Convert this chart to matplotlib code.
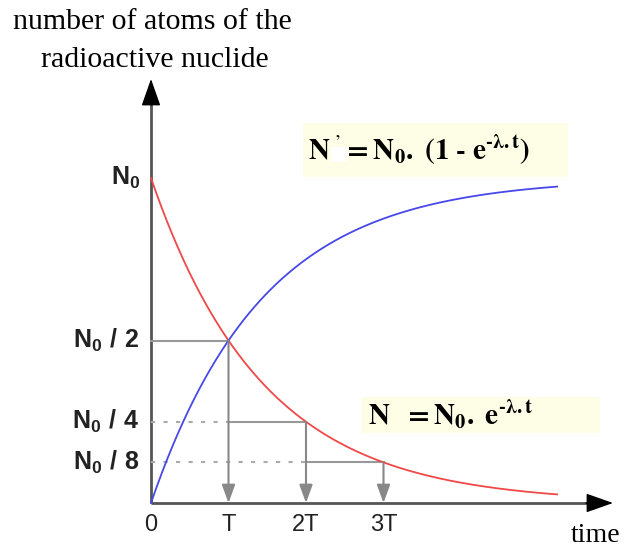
import numpy as np
import matplotlib
matplotlib.use("Agg")
import matplotlib.pyplot as plt
from matplotlib.patches import Rectangle

plt.rcParams['mathtext.fontset'] = 'custom'
plt.rcParams['mathtext.rm'] = 'Liberation Sans'
plt.rcParams['mathtext.bf'] = 'Liberation Sans:bold'

# Valores (unidades: T no eixo x, N0 no eixo y)
N0 = 1.0
T = 1.0
t_end = 5.24
tick_times = [0, 1, 2, 3]
tick_time_labels = ['0', 'T', '2T', '3T']
levels = [1.0, 0.5, 0.25, 0.125]
level_labels = [r'$\mathbf{N_0}$', r'$\mathbf{N_0\ /\ 2}$',
                r'$\mathbf{N_0\ /\ 4}$', r'$\mathbf{N_0\ /\ 8}$']

# Curvas: N = N0 . 2^(-t/T) e N' = N0 - N
t = np.linspace(0, t_end, 300)
N = N0 * 0.5 ** (t / T)
N_prime = N0 - N

fig = plt.figure(figsize=(6.24, 5.48), dpi=100)
ax = fig.add_axes([0, 0, 1, 1])
ax.set_xlim(-151 / 77.5, (624 - 151) / 77.5)
ax.set_ylim(-45 / 325, 503 / 325)
ax.axis('off')

axis_col = '#555555'
guide_col = '#999999'

# eixos com setas
y_tip = (503 - 79) / 325
x_tip = (613 - 151) / 77.5
ax.plot([0, 0], [0, y_tip - 0.05], color=axis_col, lw=2, solid_capstyle='butt')
ax.plot([0, x_tip - 0.2], [0, 0], color=axis_col, lw=2, solid_capstyle='butt')
ax.annotate('', xy=(0, y_tip), xytext=(0, y_tip - 0.08),
            arrowprops=dict(arrowstyle='-|>,head_length=1.7,head_width=0.6',
                            mutation_scale=10, color='black', lw=1,
                            shrinkA=0, shrinkB=0))
ax.annotate('', xy=(x_tip, 0), xytext=(x_tip - 0.35, 0),
            arrowprops=dict(arrowstyle='-|>,head_length=1.7,head_width=0.6',
                            mutation_scale=10, color='black', lw=1,
                            shrinkA=0, shrinkB=0))

# linhas-guia das meias-vidas
for i in range(1, 4):
    lvl = levels[i]
    tt = tick_times[i]
    prev = tick_times[i - 1]
    if prev > 0:
        ax.plot([0, prev], [lvl, lvl], color='#aaaaaa', lw=1.5,
                linestyle=(0, (2, 4)))
    ax.plot([prev, tt], [lvl, lvl], color=guide_col, lw=1.5)
    ax.annotate('', xy=(tt, 0), xytext=(tt, lvl),
                arrowprops=dict(arrowstyle='-|>,head_length=1.1,head_width=0.4',
                                mutation_scale=10, color='#888888', lw=1.5,
                                shrinkA=0, shrinkB=0))

# curvas
ax.plot(t, N, color='#f04848', lw=1.3)
ax.plot(t, N_prime, color='#4848e8', lw=1.3)

# rótulos
for lvl, lab in zip(levels, level_labels):
    ax.text(-11 / 77.5, lvl, lab, ha='right', va='center', fontsize=18,
            math_fontfamily='custom', color='#222222')
for tt, lab in zip(tick_times, tick_time_labels):
    ax.text(tt, -22 / 325, lab, ha='center', va='center', fontsize=17,
            family='Liberation Sans', color='#222222')

ax.text(0.02, (503 - 22) / 325, 'number of atoms of the', ha='center',
        va='center', fontsize=21.5, family='Liberation Serif')
ax.text(0.05, (503 - 60) / 325, 'radioactive nuclide', ha='center',
        va='center', fontsize=21.5, family='Liberation Serif')
ax.text((596 - 151) / 77.5, (503 - 535) / 325, 'time', ha='center',
        va='center', fontsize=20, family='Liberation Serif')

# caixas das fórmulas
ax.add_patch(Rectangle((1.96, 1.003), 3.42, 0.166, color='#fefee6', lw=0, zorder=1))
ax.add_patch(Rectangle((2.72, 0.215), 3.07, 0.111, color='#fefee6', lw=0, zorder=1))
ax.add_patch(Rectangle((2.32, 1.050), 0.21, 0.045, color='white', lw=0, zorder=2))
ax.text(2.03, 1.086,
        "$\\mathbf{N}^{\\ \u2019}\\mathbf{=N_0.\\ (1\\ \u2010\\ e^{\u2010\\lambda.t})}$",
        ha='left', va='center', fontsize=21, math_fontfamily='stix', zorder=3)
ax.text(2.80, 0.272, "$\\mathbf{N\\ \\ = N_0.\\ e^{\u2010\\lambda.t}}$",
        ha='left', va='center', fontsize=21, math_fontfamily='stix', zorder=3)

fig.savefig('out.png', dpi=100)
